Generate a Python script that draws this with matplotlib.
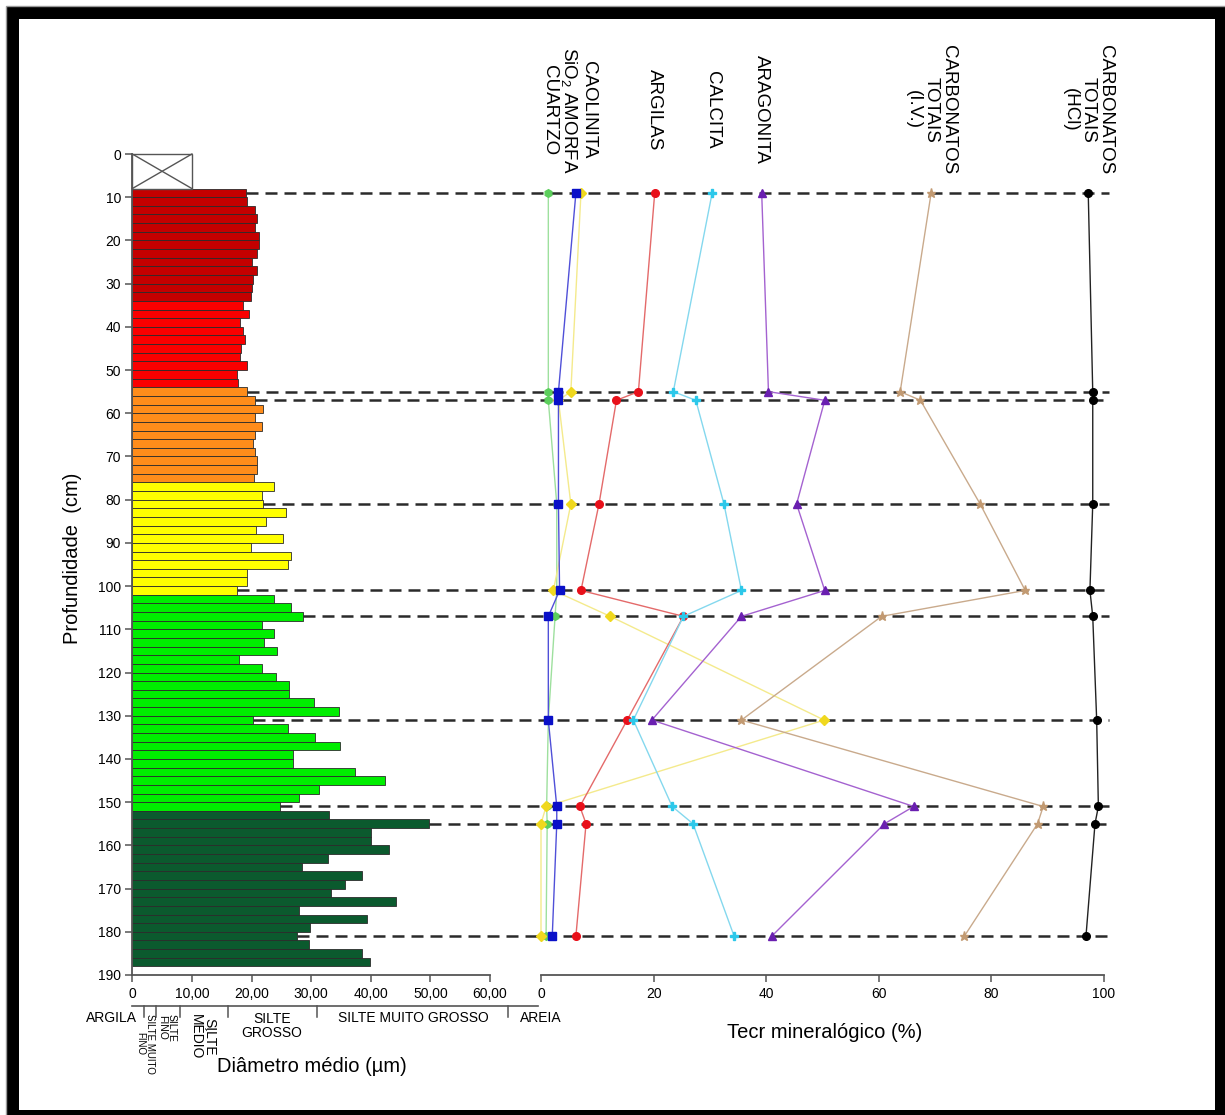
import matplotlib.pyplot as plt
import numpy as np
from matplotlib.patches import Rectangle

plt.rcParams['font.family'] = ['Liberation Sans', 'DejaVu Sans']
plt.rcParams['mathtext.fontset'] = 'custom'
plt.rcParams['mathtext.rm'] = 'Liberation Sans'
plt.rcParams['mathtext.it'] = 'Liberation Sans:italic'

W, H, DPI = 1225, 1115, 100

# grain size profile: mean diameter (um) per 2 cm slice, one list per unit
TOP_DEPTH = 8
SLICE = 2
unit_dark_red = [19.0, 19.2, 20.6, 21.0, 20.5, 21.3, 21.3, 20.9, 20.0, 21.0, 20.3, 20.0, 19.9]
unit_red = [18.6, 19.6, 18.1, 18.6, 18.9, 18.3, 18.1, 19.3, 17.5, 17.8]
unit_orange = [19.2, 20.6, 22.0, 20.5, 21.8, 20.5, 20.3, 20.6, 20.9, 21.0, 20.4]
unit_yellow = [23.8, 21.7, 22.0, 25.8, 22.4, 20.7, 25.3, 19.9, 26.6, 26.2, 19.3, 19.3, 17.5]
unit_green = [23.7, 26.7, 28.7, 21.7, 23.7, 22.1, 24.3, 17.9, 21.7, 24.1, 26.3, 26.3, 30.5,
              34.6, 20.3, 26.2, 30.6, 34.8, 27.0, 27.0, 37.4, 42.4, 31.4, 27.9, 24.8]
unit_dark_green = [33.0, 49.8, 40.0, 40.0, 43.1, 32.8, 28.4, 38.5, 35.7, 33.3, 44.3, 28.0,
                   39.3, 29.8, 27.7, 29.7, 38.5, 39.8]
UNITS = [unit_dark_red, unit_red, unit_orange, unit_yellow, unit_green, unit_dark_green]
UNIT_COLORS = ['#c40000', '#fa0000', '#ff8c1a', '#ffff00', '#00ee00', '#0b5a2e']

# grain size classes (um limits) and names
CLASS_LIMITS = [2, 4, 8, 16, 31, 63]

# mineralogy (%) at sampled depths
SAMPLE_DEPTH = [9, 55, 57, 81, 101, 107, 131, 151, 155, 181]
cuartzo = [1.3, 1.3, 1.3, 2.8, 2.8, 2.5, 1.3, 1.0, 1.1, 0.9]
sio2_amorfa = [6.2, 3.1, 3.1, 3.1, 3.3, 1.3, 1.3, 2.8, 2.8, 2.0]
caolinita = [7.1, 5.3, 3.1, 5.3, 2.2, 12.3, 50.3, 0.9, 0.0, 0.0]
argilas = [20.2, 17.3, 13.4, 10.3, 7.1, 25.3, 15.3, 6.9, 8.0, 6.2]
calcita = [30.4, 23.5, 27.5, 32.5, 35.6, 25.3, 16.4, 23.3, 27.0, 34.3]
aragonita = [39.2, 40.4, 50.4, 45.4, 50.4, 35.6, 19.7, 66.2, 61.0, 41.0]
carb_iv = [69.3, 63.8, 67.4, 78.0, 86.0, 60.5, 35.6, 89.2, 88.2, 75.2]
carb_hcl = [97.2, 98.0, 98.0, 98.0, 97.5, 98.0, 98.7, 99.0, 98.4, 96.8]

# (values, line colour, marker colour, marker)
SERIES = [
    (cuartzo, '#9ee09e', '#5ccf5c', 'h'),
    (caolinita, '#f4ea8c', '#f0d81e', 'D'),
    (sio2_amorfa, '#5050d8', '#0a10c8', 's'),
    (argilas, '#e46a6a', '#e8101a', 'o'),
    (calcita, '#84d8ee', '#2cc8ea', 'P'),
    (aragonita, '#a462d0', '#6a1fb0', '^'),
    (carb_iv, '#c9aa8c', '#c29a72', '*'),
    (carb_hcl, '#222222', '#000000', 'o'),
]
HEADERS = [
    ('CAOLINITA\nSiO$_2$ AMORFA\nCUARTZO', 5.0),
    ('ARGILAS', argilas[0]),
    ('CALCITA', calcita[0]),
    ('ARAGONITA', aragonita[0]),
    ('CARBONATOS\nTOTAIS\n(I.V.)', carb_iv[0]),
    ('CARBONATOS\nTOTAIS\n(HCl)', carb_hcl[0]),
]

AXIS_COLOR = '#555555'


def px_axes(fig, x0, x1, y0, y1):
    return fig.add_axes([x0 / W, 1 - y1 / H, (x1 - x0) / W, (y1 - y0) / H])


fig = plt.figure(figsize=(W / DPI, H / DPI), dpi=DPI)
fig.patch.set_facecolor('white')

ax1 = px_axes(fig, 132.3, 490, 154, 975)
ax2 = px_axes(fig, 541, 1104, 154, 975)
for ax in (ax1, ax2):
    ax.set_facecolor('none')
    ax.set_ylim(190, 0)
    for s in ('top', 'right'):
        ax.spines[s].set_visible(False)
    for s in ('left', 'bottom'):
        ax.spines[s].set_color(AXIS_COLOR)
        ax.spines[s].set_linewidth(1.3)
    ax.tick_params(direction='out', length=5, width=1.1, color=AXIS_COLOR,
                   labelsize=10, pad=3)
    ax.tick_params(axis='x', pad=4)

# --- left panel: grain size bars
ax1.set_xlim(0, 60)
diam = np.concatenate(UNITS)
colors = np.concatenate([[c] * len(u) for u, c in zip(UNITS, UNIT_COLORS)])
depth = TOP_DEPTH + SLICE / 2 + SLICE * np.arange(len(diam))
ax1.barh(depth, diam, height=SLICE, color=colors, edgecolor='#2b2b2b', linewidth=0.6)

# missing top section
ax1.add_patch(Rectangle((0, 0), 10, TOP_DEPTH, fill=False, ec='#555555', lw=1, clip_on=False))
ax1.plot([0, 10], [0, TOP_DEPTH], color='#555555', lw=1, clip_on=False)
ax1.plot([0, 10], [TOP_DEPTH, 0], color='#555555', lw=1, clip_on=False)

ax1.set_yticks(range(0, 191, 10))
ax1.set_xticks(range(0, 61, 10))
ax1.set_xticklabels(['0'] + [f'{v},00' for v in range(10, 61, 10)])

# grain size class scale
yc = 197.2
ax1.plot([0, 68], [yc, yc], color=AXIS_COLOR, lw=1.2, clip_on=False)
for b in CLASS_LIMITS:
    ax1.plot([b, b], [yc, yc + 2.6], color=AXIS_COLOR, lw=1.1, clip_on=False)
ax1.text(0.8, 200, 'ARGILA', ha='right', va='center', fontsize=10)
ax1.text(2.1, 199, 'SILTE MUITO\nFINO', rotation=-90, ha='center', va='top',
         multialignment='center', fontsize=7, linespacing=1.0)
ax1.text(5.8, 199, 'SILTE\nFINO', rotation=-90, ha='center', va='top',
         multialignment='center', fontsize=7.5, linespacing=1.0)
ax1.text(11.8, 199, 'SILTE\nMÉDIO', rotation=-90, ha='center', va='top',
         multialignment='center', fontsize=10, linespacing=1.0)
ax1.text(23.4, 201.8, 'SILTE\nGROSSO', ha='center', va='center', fontsize=10,
         linespacing=1.0)
ax1.text(47.1, 200, 'SILTE MUITO GROSSO', ha='center', va='center', fontsize=10)
ax1.text(65.0, 200, 'AREIA', ha='left', va='center', fontsize=10)

fig.text(73 / W, 1 - 558 / H, 'Profundidade  (cm)', rotation=90, ha='center',
         va='center', fontsize=14.5)
fig.text(312 / W, 1 - 1067 / H, 'Diâmetro médio (µm)', ha='center', va='center',
         fontsize=14.5)

# --- right panel: mineralogy
ax2.set_xlim(0, 100)
ax2.spines['left'].set_visible(False)
ax2.set_yticks([])
ax2.set_xticks(range(0, 101, 20))

to_ax2 = ax2.transData.inverted()
for d in SAMPLE_DEPTH:
    w = diam[int((d - TOP_DEPTH) // SLICE)]
    x_start = to_ax2.transform(ax1.transData.transform((w, d)))[0]
    ax2.plot([x_start, 100.8], [d, d], color='#2a2a2a', lw=1.8,
             ls=(0, (4.8, 2.8)), clip_on=False, zorder=1)

for vals, lc, mc, mk in SERIES:
    ax2.plot(vals, SAMPLE_DEPTH, color=lc, lw=1.0, marker=mk, ms=6.5 if mk == '*' else 5.5,
             mfc=mc, mec=mc, clip_on=False, zorder=3)

for label, x in HEADERS:
    ax2.text(x, -10.2, label, rotation=-90, ha='center', va='center',
             multialignment='center', fontsize=13.5, linespacing=1.05)

fig.text(825 / W, 1 - 1033 / H, 'Tecr mineralógico (%)', ha='center', va='center',
         fontsize=14.5)

# picture frame
fig.add_artist(Rectangle((13 / W, 1 - 1116 / H), (1221 - 13) / W, (1116 - 13) / H,
                         transform=fig.transFigure, fill=False, ec='black',
                         lw=12 * 72 / DPI, joinstyle='miter'))
fig.add_artist(Rectangle((6 / W, 1 - 1120 / H), 1225 / W, 1114 / H,
                         transform=fig.transFigure, fill=False, ec='#9a9a9a', lw=1.0))

fig.savefig('out.png', dpi=DPI)
